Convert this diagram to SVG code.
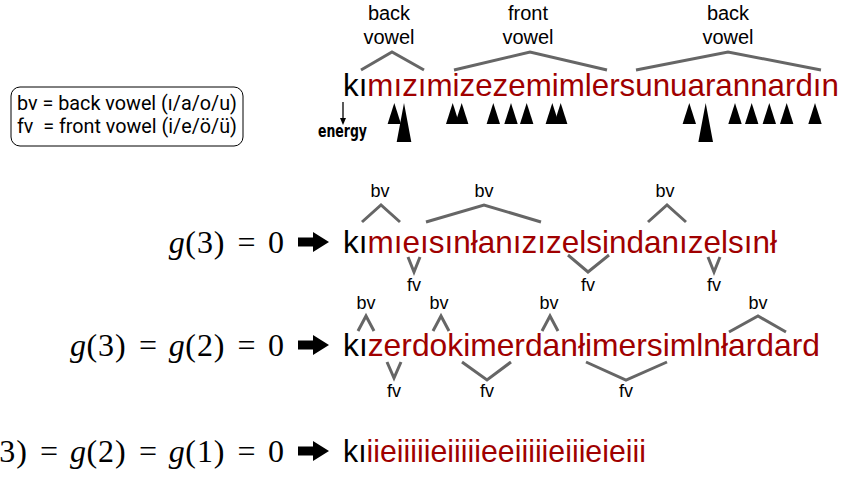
<svg xmlns="http://www.w3.org/2000/svg" width="843" height="478" viewBox="0 0 843 478">
<style>
.w{font-family:"Liberation Sans",Arial,sans-serif;font-size:32px}
.r{fill:#a00000}
.k{fill:#000}
.lbl{font-family:"Liberation Sans",Arial,sans-serif;font-size:20px;text-anchor:middle;fill:#000}
.sm{font-family:"Liberation Sans",Arial,sans-serif;font-size:18px;text-anchor:middle;fill:#000}
.br{fill:none;stroke:#666;stroke-width:3;stroke-linejoin:miter}
.math{font-family:"Liberation Serif","Times New Roman",serif;font-size:32px;text-anchor:middle;fill:#000}
.it{font-style:italic}
.tri{fill:#000}
</style>
<defs>
<path id="bigarrow" d="M0,-4.5 H15 V-10 L31,0 L15,10 V4.5 H0 Z" fill="#000"/>
</defs>

<g id="legend">
<rect x="11" y="87" width="232" height="59" rx="9" fill="#fff" stroke="#000" stroke-width="1"/>
<text x="17" y="110" font-family="Roboto,'Liberation Sans',sans-serif" font-size="20" fill="#000" textLength="220" lengthAdjust="spacingAndGlyphs">bv = back vowel (ı/a/o/u)</text>
<text x="17" y="133" font-family="Roboto,'Liberation Sans',sans-serif" font-size="20" fill="#000" xml:space="preserve" textLength="220" lengthAdjust="spacingAndGlyphs">fv  = front vowel (i/e/ö/ü)</text>
</g>

<g id="row1">
<text class="lbl" x="389" y="20">back</text>
<text class="lbl" x="389" y="44">vowel</text>
<text class="lbl" x="528" y="20">front</text>
<text class="lbl" x="528" y="44">vowel</text>
<text class="lbl" x="728" y="20">back</text>
<text class="lbl" x="728" y="44">vowel</text>
<text class="w" x="343" y="96" textLength="496" lengthAdjust="spacingAndGlyphs"><tspan class="k">kı</tspan><tspan class="r">mızımizezemimlersunuarannardın</tspan></text>
<g id="energy">
<line x1="343" y1="102" x2="343" y2="119" stroke="#000" stroke-width="1.3"/>
<path d="M340,118 L346,118 L343,125 Z" fill="#000"/>
<text x="318" y="137" font-family="'Liberation Sans Narrow','DejaVu Sans Condensed',sans-serif" font-weight="bold" font-size="17" fill="#000" textLength="49" lengthAdjust="spacingAndGlyphs">energy</text>
</g>
<g id="energy-triangles" class="tri">
<path d="M404,103 L396.7,142 L411.3,142 Z"/>
<path d="M705.7,103 L698.4,142 L713,142 Z"/>
<path d="M394.3,103 L387.6,124 L401,124 Z"/>
<path d="M452.7,103 L446,124 L459.4,124 Z"/>
<path d="M461.7,103 L455,124 L468.4,124 Z"/>
<path d="M493.3,103 L486.6,124 L500,124 Z"/>
<path d="M511,103 L504.3,124 L517.7,124 Z"/>
<path d="M526.7,103 L520,124 L533.4,124 Z"/>
<path d="M552.3,103 L545.6,124 L559,124 Z"/>
<path d="M560.7,103 L554,124 L567.4,124 Z"/>
<path d="M689.3,103 L682.6,124 L696,124 Z"/>
<path d="M735,103 L728.3,124 L741.7,124 Z"/>
<path d="M751.7,103 L745,124 L758.4,124 Z"/>
<path d="M769.3,103 L762.6,124 L776,124 Z"/>
<path d="M786.7,103 L780,124 L793.4,124 Z"/>
<path d="M815,103 L808.3,124 L821.7,124 Z"/>
</g>
</g>

<g id="row2">
<text class="math" y="253"><tspan x="176.8" class="it">g</tspan><tspan x="190.7">(</tspan><tspan x="204.9">3</tspan><tspan x="219.1">)</tspan><tspan x="246.6">=</tspan><tspan x="276">0</tspan></text>
<use href="#bigarrow" x="298" y="242"/>
<text class="w" x="343" y="253" textLength="434" lengthAdjust="spacingAndGlyphs"><tspan class="k">kı</tspan><tspan class="r">mıeısınłanızızelsindanızelsınł</tspan></text>
<text class="sm" x="380" y="197">bv</text>
<text class="sm" x="484" y="197">bv</text>
<text class="sm" x="665" y="197">bv</text>
<text class="sm" x="414" y="291">fv</text>
<text class="sm" x="588" y="291">fv</text>
<text class="sm" x="714" y="291">fv</text>
</g>

<g id="row3">
<text class="math" y="356"><tspan x="78" class="it">g</tspan><tspan x="91.9">(</tspan><tspan x="106.1">3</tspan><tspan x="120.3">)</tspan><tspan x="147.9">=</tspan><tspan x="176.8" class="it">g</tspan><tspan x="190.7">(</tspan><tspan x="204.9">2</tspan><tspan x="219.1">)</tspan><tspan x="246.6">=</tspan><tspan x="276">0</tspan></text>
<use href="#bigarrow" x="298" y="345"/>
<text class="w" x="343" y="356" textLength="477" lengthAdjust="spacingAndGlyphs"><tspan class="k">kı</tspan><tspan class="r">zerdokimerdanłimersimlnłardard</tspan></text>
<text class="sm" x="366" y="309">bv</text>
<text class="sm" x="439" y="309">bv</text>
<text class="sm" x="549" y="309">bv</text>
<text class="sm" x="758" y="309">bv</text>
<text class="sm" x="394" y="397">fv</text>
<text class="sm" x="487" y="397">fv</text>
<text class="sm" x="626" y="397">fv</text>
</g>

<g id="row4">
<text class="math" y="462"><tspan x="-20.8" class="it">g</tspan><tspan x="-6.9">(</tspan><tspan x="7.3">3</tspan><tspan x="21.5">)</tspan><tspan x="49.1">=</tspan><tspan x="78" class="it">g</tspan><tspan x="91.9">(</tspan><tspan x="106.1">2</tspan><tspan x="120.3">)</tspan><tspan x="147.9">=</tspan><tspan x="176.8" class="it">g</tspan><tspan x="190.7">(</tspan><tspan x="204.9">1</tspan><tspan x="219.1">)</tspan><tspan x="246.6">=</tspan><tspan x="276">0</tspan></text>
<use href="#bigarrow" x="298" y="451"/>
<text class="w" x="343" y="462" textLength="303" lengthAdjust="spacingAndGlyphs"><tspan class="k">kı</tspan><tspan class="r">iieiiiiieiiiiieeiiiiieiiieieiii</tspan></text>
</g>

<g id="connectors" class="br">
<polyline points="361,70 392,52 424,70"/>
<polyline points="454,70 530,52 607,70"/>
<polyline points="636,70 728,52 821,70"/>
<polyline points="362,222 381,205 400,222"/>
<polyline points="426,222 484,205 541,222"/>
<polyline points="648,222 667,205 686,222"/>
<polyline points="408,257 414,272 420,257"/>
<polyline points="568,255 588,272 609,255"/>
<polyline points="708,257 714,272 720,257"/>
<polyline points="358,331 366,316 374,331"/>
<polyline points="433,331 441,316 449,331"/>
<polyline points="542,331 550,316 558,331"/>
<polyline points="729,332 758,316 786,332"/>
<polyline points="387,362 394,378 401,362"/>
<polyline points="462,362 487,380 511,362"/>
<polyline points="586,362 626,380 667,362"/>
</g>
</svg>
